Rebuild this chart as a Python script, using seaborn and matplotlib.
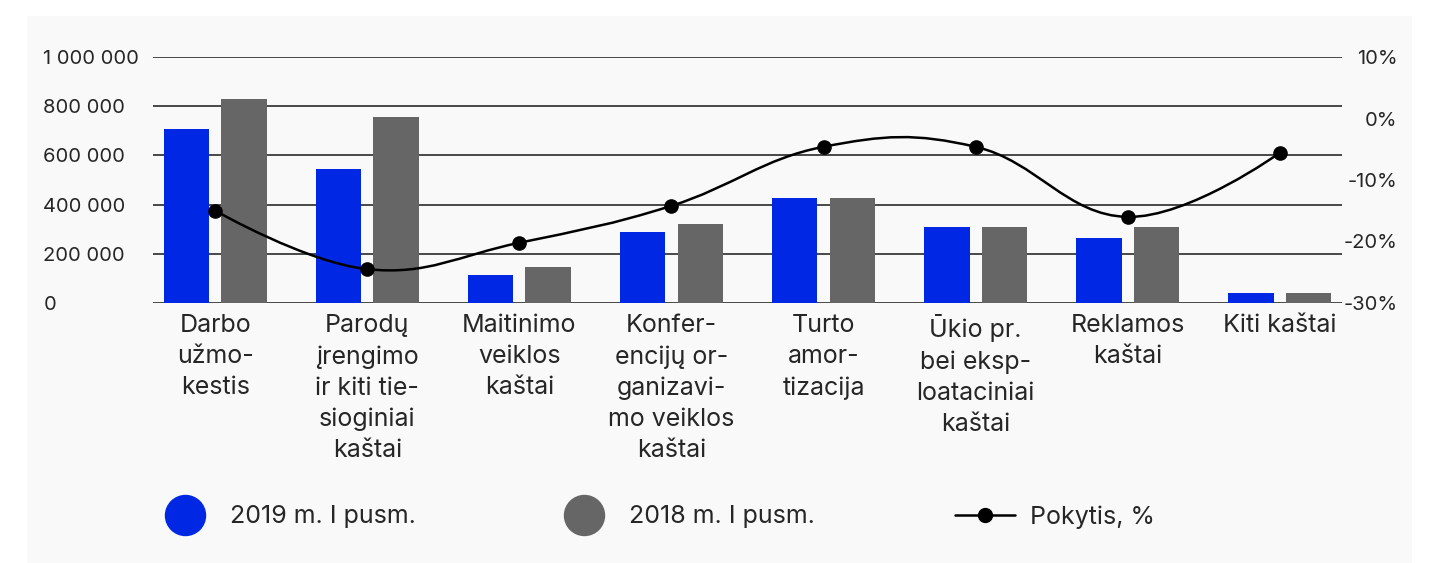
import numpy as np
import pandas as pd
import matplotlib
matplotlib.use("Agg")
import matplotlib.pyplot as plt
from matplotlib.patches import Rectangle, PathPatch
from matplotlib.path import Path
from matplotlib.lines import Line2D
import seaborn as sns

# ---- data ----
categories = [
    "Darbo\nužmo-\nkestis",
    "Parodų\nįrengimo\nir kiti tie-\nsioginiai\nkaštai",
    "Maitinimo\nveiklos\nkaštai",
    "Konfer-\nencijų or-\nganizavi-\nmo veiklos\nkaštai",
    "Turto\namor-\ntizacija",
    "Ūkio pr.\nbei eksp-\nloataciniai\nkaštai",
    "Reklamos\nkaštai",
    "Kiti kaštai",
]
values_2019 = [707000, 545000, 114000, 289000, 427000, 309000, 264000, 41000]
values_2018 = [829000, 756000, 146000, 321000, 427000, 309000, 309000, 41000]
change_pct = [-15.0, -24.5, -20.2, -14.2, -4.6, -4.6, -16.0, -5.6]

series_names = ["2019 m. I pusm.", "2018 m. I pusm.", "Pokytis, %"]
left_ticks = [0, 200000, 400000, 600000, 800000, 1000000]
right_ticks = [-30, -20, -10, 0, 10]

BLUE = "#0028e4"
GRAY = "#666666"
GRID = "#2a2a2a"

df = pd.DataFrame({
    "category": categories * 2,
    "period": [series_names[0]] * len(categories) + [series_names[1]] * len(categories),
    "value": values_2019 + values_2018,
})

sns.set_style("white")
plt.rcParams["font.family"] = ["Inter", "DejaVu Sans"]

fig = plt.figure(figsize=(14.34, 5.63), dpi=100)
fig.patch.set_facecolor("white")
# light panel behind the chart
fig.patches.append(Rectangle((27 / 1434, 0), (1412 - 27) / 1434, 1 - 16 / 563,
                             transform=fig.transFigure, facecolor="#f9f9f9",
                             edgecolor="none", zorder=-10))

ax = fig.add_axes([153 / 1434, 1 - 303 / 563, (1342 - 153) / 1434, (303 - 57) / 563])
ax.set_facecolor("none")

sns.barplot(data=df, x="category", y="value", hue="period",
            palette=[BLUE, GRAY], saturation=1, width=0.76, gap=0.21,
            linewidth=0, legend=False, ax=ax)

ax.set_xlim(-0.41, 7.41)
ax.set_ylim(0, 1000000)
ax.set_xlabel("")
ax.set_ylabel("")
ax.set_yticks(left_ticks)
ax.set_yticklabels([f"{v:,}".replace(",", " ") for v in left_ticks], ha="left")
ax.tick_params(axis="y", length=0, pad=79, labelsize=14.5)
ax.set_xticks(range(len(categories)))
ax.set_xticklabels(categories, fontsize=18, linespacing=1.44)
ax.tick_params(axis="x", length=0, pad=8)
ax.yaxis.grid(True, color=GRID, lw=1.2)
ax.xaxis.grid(False)
ax.set_axisbelow(True)
for s in ax.spines.values():
    s.set_visible(False)

# ---- change line on right axis ----
ax2 = ax.twinx()
ax2.set_ylim(-30, 10)
ax2.set_yticks(right_ticks)
ax2.set_yticklabels([f"{v}%" for v in right_ticks], ha="right")
ax2.tick_params(axis="y", length=0, pad=40, labelsize=14.5)
for s in ax2.spines.values():
    s.set_visible(False)


def spline_path(xs, ys, smoothing=1.5):
    n = len(xs)
    left = [(x, y) for x, y in zip(xs, ys)]
    right = [(x, y) for x, y in zip(xs, ys)]
    for i in range(1, n - 1):
        lx = (smoothing * xs[i] + xs[i - 1]) / (smoothing + 1)
        ly = (smoothing * ys[i] + ys[i - 1]) / (smoothing + 1)
        rx = (smoothing * xs[i] + xs[i + 1]) / (smoothing + 1)
        ry = (smoothing * ys[i] + ys[i + 1]) / (smoothing + 1)
        corr = (ry - ly) * (rx - xs[i]) / (rx - lx) + ys[i] - ry
        left[i] = (lx, ly + corr)
        right[i] = (rx, ry + corr)
    verts = [(xs[0], ys[0])]
    codes = [Path.MOVETO]
    for i in range(1, n):
        verts += [right[i - 1], left[i], (xs[i], ys[i])]
        codes += [Path.CURVE4] * 3
    return Path(verts, codes)


xpos = np.arange(len(categories), dtype=float)
ax2.add_patch(PathPatch(spline_path(xpos, change_pct), facecolor="none",
                        edgecolor="black", lw=1.8, zorder=3))
ax2.plot(xpos, change_pct, "o", color="black", markersize=9.5, zorder=4)

# ---- legend ----
leg_y = 1 - 517 / 563
h1 = Line2D([], [], marker="o", linestyle="none", markersize=28.8,
            markerfacecolor=BLUE, markeredgecolor=BLUE)
h2 = Line2D([], [], marker="o", linestyle="none", markersize=28.8,
            markerfacecolor=GRAY, markeredgecolor=GRAY)
h3 = Line2D([], [], color="black", lw=1.8, marker="o", markersize=10)
for h, name, x0, hl, tp in [(h1, series_names[0], 165, 1.6, 1.0),
                            (h2, series_names[1], 564, 1.6, 1.0),
                            (h3, series_names[2], 955, 2.4, 0.6)]:
    lg = fig.legend(handles=[h], labels=[name], loc="center left",
                    bbox_to_anchor=(x0 / 1434, leg_y), frameon=False,
                    fontsize=18, handlelength=hl, handletextpad=tp,
                    borderpad=0, borderaxespad=0)

fig.savefig("out.png", dpi=100)
